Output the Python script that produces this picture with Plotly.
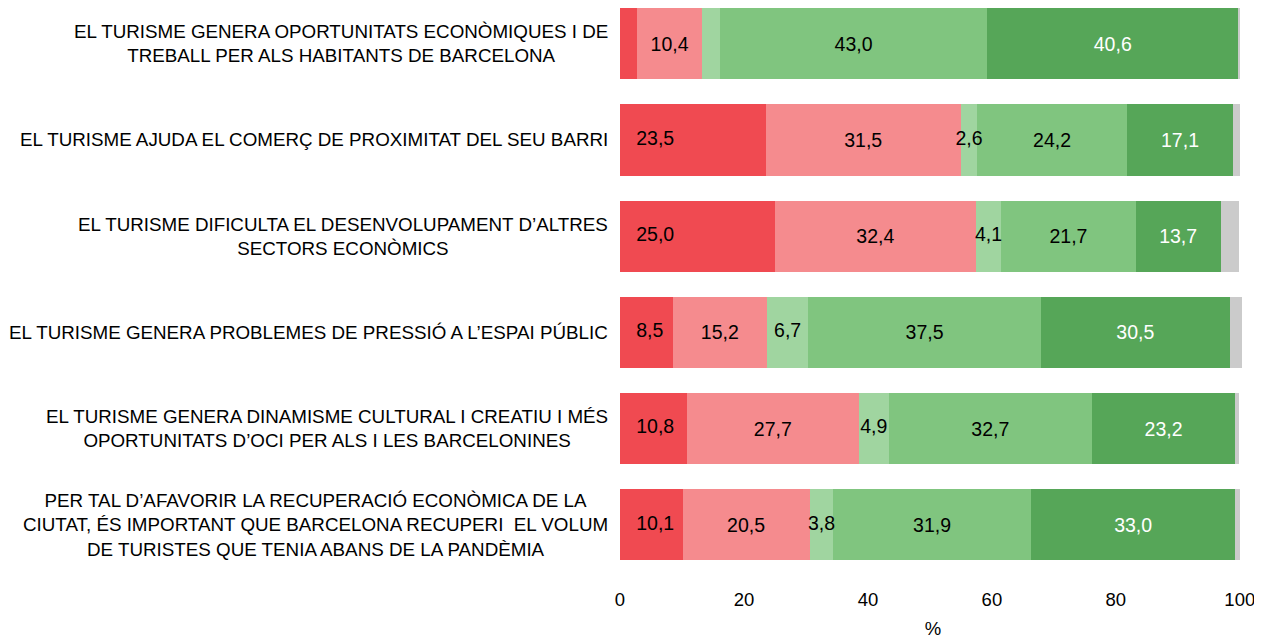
import plotly.graph_objects as go

categories = [
    "EL TURISME GENERA OPORTUNITATS ECONÒMIQUES I DE<br>TREBALL PER ALS HABITANTS DE BARCELONA",
    "EL TURISME AJUDA EL COMERÇ DE PROXIMITAT DEL SEU BARRI",
    "EL TURISME DIFICULTA EL DESENVOLUPAMENT D’ALTRES<br>SECTORS ECONÒMICS",
    "EL TURISME GENERA PROBLEMES DE PRESSIÓ A L’ESPAI PÚBLIC",
    "EL TURISME GENERA DINAMISME CULTURAL I CREATIU I MÉS<br>OPORTUNITATS D’OCI PER ALS I LES BARCELONINES",
    "PER TAL D’AFAVORIR LA RECUPERACIÓ ECONÒMICA DE LA<br>CIUTAT, ÉS IMPORTANT QUE BARCELONA RECUPERI  EL VOLUM<br>DE TURISTES QUE TENIA ABANS DE LA PANDÈMIA",
]

series_names = ["Molt en desacord", "En desacord", "Ni d'acord ni en desacord", "D'acord", "Molt d'acord", "NS/NC"]
molt_desacord = [2.8, 23.5, 25.0, 8.5, 10.8, 10.1]
desacord = [10.4, 31.5, 32.4, 15.2, 27.7, 20.5]
ni_ni = [3.0, 2.6, 4.1, 6.7, 4.9, 3.8]
acord = [43.0, 24.2, 21.7, 37.5, 32.7, 31.9]
molt_acord = [40.6, 17.1, 13.7, 30.5, 23.2, 33.0]
nsnc = [0.3, 1.1, 2.9, 2.0, 0.6, 0.7]

# whether each value's label is shown
show_labels = [
    [False, True, True, True, True, True],
    [True, True, True, True, True, True],
    [False, True, True, True, True, True],
    [True, True, True, True, True, True],
    [True, True, True, True, True, True],
    [False, False, False, False, False, False],
]

x_ticks = [0, 20, 40, 60, 80, 100]

colors = ["#F04A51", "#F58B8E", "#A0D5A0", "#80C57F", "#56A658", "#CBCBCB"]
text_colors = ["black", "black", "black", "black", "white", "black"]

values = [molt_desacord, desacord, ni_ni, acord, molt_acord, nsnc]

FONT = "Liberation Sans, Arial, sans-serif"
LABEL_SIZE = 19.5


def fmt(v):
    return f"{v:.1f}".replace(".", ",")


fig = go.Figure()
for i, (name, vals) in enumerate(zip(series_names, values)):
    if i in (0, 2):
        texts = ["" for _ in vals]  # drawn on top as text layers below
    else:
        texts = [fmt(v) if s else "" for v, s in zip(vals, show_labels[i])]
    fig.add_trace(go.Bar(
        y=categories, x=vals, orientation="h", name=name,
        marker=dict(color=colors[i], line=dict(width=0)),
        text=texts, textposition="inside",
        insidetextanchor="middle",
        textangle=0, constraintext="none",
        textfont=dict(family=FONT, size=LABEL_SIZE, color=text_colors[i]),
        hoverinfo="skip", showlegend=False,
    ))

# labels of the first segment, anchored at the bar base, drawn above all bars
fig.add_trace(go.Scatter(
    x=[0 for _ in categories], y=categories, mode="text",
    text=["\u00a0" * 3 + fmt(v) if s else "" for v, s in zip(molt_desacord, show_labels[0])],
    textposition="middle right",
    textfont=dict(family=FONT, size=LABEL_SIZE, color="black"),
    hoverinfo="skip", showlegend=False, cliponaxis=False,
))

# labels of the narrow middle segment, drawn above all bars
mid_x = [a + b + c / 2 for a, b, c in zip(molt_desacord, desacord, ni_ni)]
fig.add_trace(go.Scatter(
    x=mid_x, y=categories, mode="text",
    text=[fmt(v) if s else "" for v, s in zip(ni_ni, show_labels[2])],
    textposition="middle center",
    textfont=dict(family=FONT, size=LABEL_SIZE, color="black"),
    hoverinfo="skip", showlegend=False,
))

for c in categories:
    fig.add_annotation(
        text=c, xref="paper", x=0, yref="y", y=c,
        xanchor="right", yanchor="middle", xshift=-10, align="center",
        showarrow=False, font=dict(family=FONT, size=18.8, color="black"),
    )

fig.update_layout(
    barmode="stack", bargap=0.26,
    width=1254, height=631,
    margin=dict(l=612, r=16, t=0, b=59),
    paper_bgcolor="white", plot_bgcolor="white",
    font=dict(family=FONT, size=18.5, color="black"),
    xaxis=dict(range=[0, 101], tickvals=x_ticks, ticktext=[str(t) for t in x_ticks],
               showgrid=False, zeroline=False, showline=False, ticks="",
               ticklabelstandoff=6,
               tickfont=dict(size=18.5), title=dict(text="%", font=dict(size=18.5), standoff=17)),
    yaxis=dict(range=[5.575, -0.372], showticklabels=False, showgrid=False,
               zeroline=False, showline=False, ticks=""),
)

fig.write_html("out.html")
